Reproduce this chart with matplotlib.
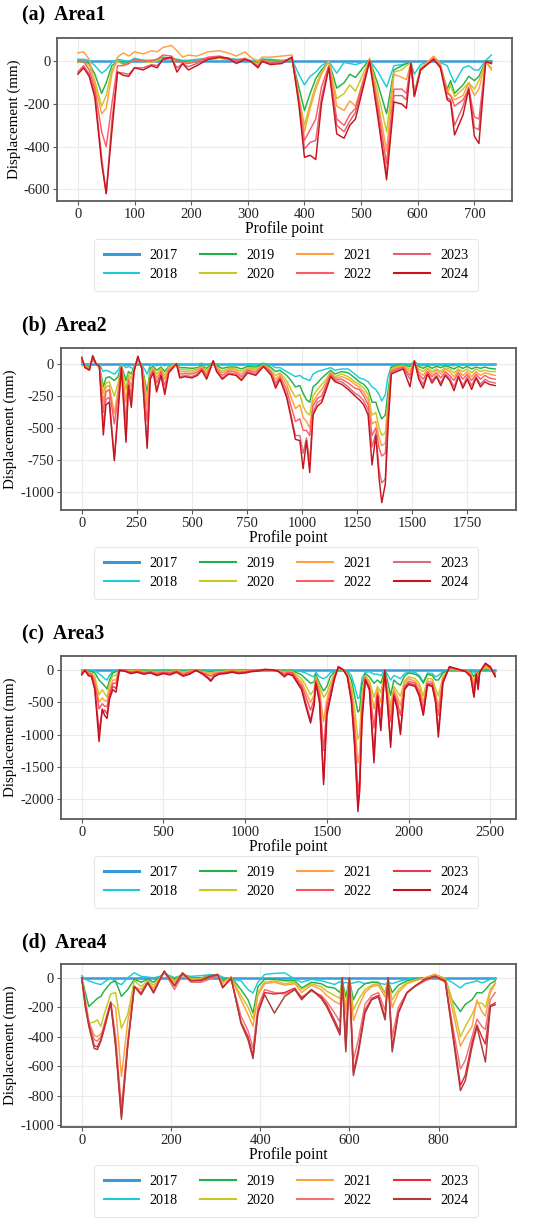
import matplotlib
matplotlib.use("Agg")
import matplotlib.pyplot as plt

# ==========================================================
# PROFILE DISPLACEMENT, FOUR AREAS, 2017 - 2024
# values (mm), 2017 is the reference
# ==========================================================

years = ["2017", "2018", "2019", "2020", "2021", "2022", "2023", "2024"]

# ---------------- Area1 ----------------
a_x = [0, 10, 20, 30, 42, 50, 60, 70, 80, 90,
       100, 115, 130, 140, 150, 165, 175, 185, 195, 210,
       230, 250, 265, 280, 295, 305, 318, 325, 340, 360,
       378, 390, 400, 410, 420, 430, 443, 457, 470, 480,
       490, 515, 530, 545, 558, 572, 580, 588, 594, 605,
       628, 640, 652, 658, 665, 680, 690, 700, 708, 720,
       730]
a_2017_x = [0, 730]
a_2017 = [0, 0]
a_2018 = [10, 10, 5, -20, -55, -40, -5, 10, 5, 0,
          15, 5, 5, 0, 10, 15, 10, 5, 5, 10,
          15, 20, 15, 10, 10, 5, 5, 10, 10, 5,
          10, -60, -110, -70, -50, -20, 0, -55, -5, -10,
          -15, 5, -50, -120, -20, -15, -10, -5, -60, -15,
          10, -5, -20, -60, -100, -30, -20, -40, -40, 5,
          30]
a_2019 = [0, 0, -10, -60, -150, -100, -20, 0, -10, -5,
          10, 5, 0, 10, 20, 15, 5, 0, 0, 0,
          10, 15, 10, 5, 10, 0, -5, 10, 5, 0,
          10, -120, -230, -150, -80, -40, 0, -125, -100, -60,
          -75, 10, -110, -245, -40, -20, -10, -5, -150, -30,
          10, -20, -130, -90, -150, -110, -70, -90, -70, 0,
          0]
a_2020 = [-5, 0, -20, -90, -210, -160, -40, 0, -15, -10,
          10, 0, -5, 5, 15, 10, 0, -5, -5, 0,
          10, 15, 10, 5, 10, 0, -10, 5, 0, 0,
          10, -160, -300, -200, -110, -50, 0, -175, -150, -110,
          -140, 10, -150, -330, -50, -40, -20, -5, -150, -30,
          15, -20, -150, -110, -165, -130, -100, -130, -90, 0,
          -30]
a_2021 = [40, 45, 10, -110, -245, -220, -60, 20, 40, 25,
          45, 35, 50, 45, 65, 75, 50, 20, 30, 25,
          45, 50, 40, 25, 45, 20, 0, 20, 20, 25,
          30, -170, -330, -220, -130, -60, 5, -210, -230, -185,
          -210, 15, -190, -420, -60, -75, -85, -5, -155, -35,
          25, -10, -140, -160, -180, -160, -100, -160, -130, 0,
          -40]
a_2022 = [0, 0, -40, -130, -330, -400, -200, -20, -20, -10,
          10, 0, 5, 10, 30, 25, 0, -5, -10, 0,
          20, 25, 15, 5, 15, 0, -20, 5, -5, 0,
          15, -180, -370, -320, -270, -120, -20, -270, -300, -250,
          -220, 5, -220, -480, -130, -130, -150, -5, -160, -40,
          15, -20, -150, -160, -210, -180, -130, -260, -270, 0,
          -10]
a_2023 = [-50, -20, -60, -150, -450, -620, -280, -50, -55, -60,
          -30, -30, -15, -20, 10, 15, -30, -10, -25, -10,
          15, 20, 10, 5, 10, 0, -25, 0, -10, -5,
          20, -180, -410, -380, -370, -170, -25, -300, -330, -280,
          -240, 0, -250, -530, -160, -160, -180, -5, -160, -40,
          10, -25, -170, -180, -300, -210, -120, -310, -320, 0,
          -5]
a_2024 = [-60, -30, -70, -170, -480, -620, -330, -50, -65, -70,
          -30, -40, -20, -30, 10, 20, -50, -10, -40, -20,
          10, 20, 15, -10, 10, 0, -30, 0, -15, -10,
          20, -200, -450, -440, -460, -200, -30, -340, -360, -300,
          -270, 0, -270, -555, -190, -200, -220, -10, -165, -40,
          10, -30, -180, -190, -345, -250, -130, -350, -385, 0,
          -10]

# ---------------- Area2 ----------------
b_x = [0, 15, 35, 50, 65, 80, 98, 110, 125, 148,
       165, 180, 201, 212, 225, 237, 255, 273, 297, 311,
       325, 340, 360, 377, 395, 430, 445, 470, 500, 525,
       545, 567, 597, 612, 638, 667, 700, 725, 753, 790,
       825, 845,
       860, 880, 900, 930, 950, 970, 990, 1005, 1020, 1035, 1050, 1070, 1090, 1110, 1130, 1150,
       1180, 1210, 1240, 1260, 1280, 1300, 1318, 1335, 1350, 1362, 1378, 1390, 1405, 1430, 1460, 1490, 1510,
       1530, 1550, 1570, 1590, 1610, 1630, 1650, 1670, 1690, 1710, 1730, 1750, 1770, 1790, 1810, 1830, 1850, 1877]
b_2017_x = [0, 1877]
b_2017 = [0, 0]
b_2018 = [10, -5, -10, 30, 0, -5, -60, -50, -60, -80,
          -50, 0, -30, -20, -30, -40, 30, -5, -80, -10,
          -5, -15, -5, -15, -5, 0, -10, -5, -10, -5,
          5, -10, 10, -5, -10, -5, -5, -10, -5, -5,
          5, -5,
          -10, -30, -30, -60, -80, -100, -90, -110, -120, -130, -80, -60, -50, -40, -30, -50,
          -40, -40, -80, -110, -120, -140, -180, -200, -240, -290, -240, -100, -20, 0, 0, -5, 15,
          -5, -15, 0, -10, -5, -10, 0, -10, -15, -5, -10, -5, -15, -10, -10, -5, -10, -10]
b_2019 = [15, -10, -25, 40, -5, -10, -180, -110, -100, -130,
          -100, -10, -130, -60, -80, -25, 35, -15, -220, -35,
          -20, -50, -25, -60, -20, 0, -30, -30, -35, -30,
          -15, -35, 10, -15, -35, -25, -25, -40, -20, -25,
          -5, -15,
          -30, -60, -50, -90, -130, -180, -170, -230, -280, -300, -180, -150, -110, -80, -50, -80,
          -60, -70, -110, -140, -160, -200, -300, -300, -380, -430, -400, -220, -30, -10, -10, -20, 20,
          -20, -35, -15, -35, -20, -30, -15, -25, -40, -20, -35, -20, -40, -25, -35, -25, -35, -40]
b_2020 = [20, -15, -30, 45, -5, -15, -230, -150, -140, -250,
          -150, -10, -200, -80, -120, -30, 40, -20, -280, -50,
          -30, -80, -35, -90, -25, 0, -45, -45, -50, -40,
          -20, -55, 15, -25, -55, -35, -40, -60, -30, -40,
          -10, -25,
          -50, -90, -70, -130, -200, -260, -240, -330, -380, -400, -250, -200, -160, -120, -60, -100,
          -80, -100, -140, -160, -190, -240, -400, -380, -500, -560, -540, -300, -40, -20, -15, -40, 20,
          -40, -60, -30, -60, -40, -60, -30, -40, -70, -40, -60, -40, -70, -40, -60, -50, -60, -60]
b_2021 = [25, -20, -35, 50, -5, -15, -300, -180, -170, -390,
          -200, -15, -300, -100, -180, -40, 45, -25, -330, -70,
          -40, -110, -45, -120, -35, 0, -60, -60, -65, -50,
          -25, -70, 20, -35, -70, -45, -50, -80, -40, -50,
          -10, -30,
          -60, -120, -80, -160, -260, -350, -320, -420, -450, -500, -300, -240, -200, -140, -70, -110,
          -100, -120, -160, -180, -220, -280, -470, -450, -580, -640, -620, -350, -50, -30, -20, -60, 20,
          -60, -90, -40, -80, -50, -80, -40, -60, -100, -50, -90, -60, -100, -60, -90, -70, -80, -90]
b_2022 = [30, -25, -40, 55, -5, -20, -380, -220, -200, -470,
          -260, -20, -450, -130, -250, -50, 50, -30, -450, -90,
          -50, -150, -60, -170, -50, 0, -80, -75, -80, -65,
          -35, -90, 20, -45, -90, -55, -65, -100, -50, -65,
          -15, -40,
          -70, -150, -100, -200, -330, -450, -430, -520, -520, -560, -330, -270, -250, -160, -80, -120,
          -120, -150, -190, -200, -250, -320, -560, -500, -660, -720, -700, -400, -60, -40, -25, -90, 20,
          -80, -120, -60, -100, -70, -110, -60, -90, -130, -70, -120, -80, -130, -80, -120, -90, -110, -120]
b_2023 = [40, -30, -45, 60, 0, -20, -500, -280, -260, -740,
          -350, -25, -590, -160, -320, -60, 55, -35, -640, -110,
          -60, -200, -80, -220, -60, 0, -100, -90, -100, -80,
          -45, -110, 20, -55, -110, -70, -80, -120, -60, -80,
          -20, -50,
          -80, -170, -110, -240, -400, -560, -560, -700, -580, -760, -380, -300, -280, -180, -90, -130,
          -140, -180, -230, -250, -290, -360, -650, -540, -830, -930, -900, -480, -70, -50, -30, -120, 20,
          -100, -160, -70, -130, -90, -150, -80, -110, -180, -90, -170, -100, -170, -100, -160, -120, -140, -150]
b_2024 = [52, -30, -50, 65, 0, -20, -556, -320, -300, -757,
          -380, -30, -613, -170, -340, -65, 60, -40, -660, -120,
          -70, -220, -90, -240, -70, 0, -110, -100, -110, -90,
          -50, -120, 25, -60, -120, -80, -90, -130, -70, -90,
          -20, -60,
          -90, -190, -120, -260, -420, -590, -600, -820, -600, -850, -400, -330, -300, -200, -100, -140,
          -160, -200, -250, -280, -320, -400, -790, -560, -900, -1085, -940, -500, -80, -60, -40, -180, 25,
          -120, -190, -80, -150, -100, -170, -90, -130, -210, -100, -190, -120, -200, -110, -180, -140, -160, -170]

# ---------------- Area3 ----------------
c_x = [0, 20, 40, 60, 80, 106, 125, 140, 155, 170, 190, 210, 230,
       260, 300, 340, 380, 420, 460, 500, 540, 580, 620,
       660, 700, 740, 770, 790, 810, 840, 880, 920, 960,
       1000, 1040, 1080, 1120, 1160, 1200, 1240, 1260, 1290,
       1320, 1345, 1370, 1400, 1422, 1432, 1455, 1480, 1500, 1520,
       1545, 1570, 1600, 1625, 1650, 1670, 1690, 1700, 1715, 1735,
       1760, 1788, 1810, 1830, 1854, 1870, 1890, 1910, 1930, 1950,
       1975, 2000, 2040, 2065, 2090, 2115, 2145, 2165, 2182, 2210,
       2250, 2300, 2350, 2380, 2400, 2414, 2425, 2435, 2470, 2500,
       2530]
c_2017_x = [0, 2530]
c_2017 = [0, 0]
c_2018 = [0, 0, 0, -5, -10, -50, -90, -130, -150, -80, -10, -5, 0,
          0, 0, 5, 0, 0, -5, 0, 0, 0, -5,
          0, 5, 0, -5, -5, -5, 0, 0, 0, 0,
          0, 0, 0, 5, 5, 0, -5, 0, 0,
          -10, -20, -40, -80, -100, -30, -100, -130, -100, -40,
          -10, 5, 0, -10, -80, -250, -440, -420, -120, -30,
          -20, -60, -60, -80, 0, -60, -150, -80, -100, -130,
          -50, -20, -30, -80, -180, -40, -50, -100, -80, -20,
          5, 0, 0, -10, -30, -10, -20, -5, 10, 0,
          -30]
c_2019 = [-10, 5, -10, -20, -40, -150, -200, -240, -290, -150, -40, -20, 5,
          5, -5, 10, -10, -5, -15, -10, -10, 0, -15,
          -5, 10, -10, -15, -20, -15, -10, -5, 0, -5,
          0, 5, 5, 10, 10, 0, -15, -5, -10,
          -40, -70, -130, -200, -180, -60, -200, -320, -250, -100,
          -30, 10, 0, -30, -150, -400, -650, -620, -220, -50,
          -100, -200, -150, -200, 0, -150, -390, -150, -200, -230,
          -90, -40, -60, -100, -200, -60, -80, -150, -150, -40,
          10, 0, 0, -20, -100, -20, -50, -10, 20, 10,
          -50]
c_2020 = [-20, 10, -30, -40, -100, -380, -300, -360, -420, -200, -80, -80, 10,
          0, -10, 5, -20, -10, -25, -15, -20, 0, -25,
          -10, 5, -20, -30, -40, -25, -20, -10, 0, -10,
          -5, 5, 5, 10, 10, 0, -25, -10, -20,
          -80, -130, -230, -380, -300, -100, -250, -420, -350, -200,
          -60, 20, 5, -50, -250, -600, -1070, -1000, -350, -80,
          -160, -420, -250, -350, 0, -280, -550, -250, -330, -400,
          -160, -100, -130, -200, -400, -130, -130, -280, -400, -90,
          20, 5, -5, -40, -180, -30, -100, -15, 40, 20,
          -60]
c_2021 = [-30, 10, -40, -50, -150, -500, -430, -470, -480, -300, -150, -150, 10,
          0, -20, 0, -30, -15, -40, -20, -30, -5, -40,
          -20, 5, -30, -50, -60, -40, -30, -20, -5, -20,
          -10, 0, 5, 15, 10, 0, -40, -20, -30,
          -120, -180, -320, -500, -380, -120, -300, -800, -450, -280,
          -80, 30, 5, -60, -330, -800, -1440, -1300, -450, -100,
          -200, -600, -300, -500, 0, -350, -650, -300, -400, -550,
          -200, -130, -170, -250, -500, -170, -170, -350, -560, -120,
          30, 10, -10, -50, -250, -40, -150, -20, 60, 30,
          -70]
c_2022 = [-40, 10, -50, -60, -200, -600, -520, -560, -560, -380, -200, -200, 10,
          0, -30, -10, -40, -20, -50, -30, -40, -10, -60,
          -30, 5, -40, -70, -90, -60, -40, -30, -10, -30,
          -20, 0, 5, 15, 10, -5, -60, -30, -40,
          -150, -230, -400, -620, -450, -150, -380, -1250, -550, -350,
          -100, 40, 10, -80, -400, -950, -1900, -1700, -600, -120,
          -250, -900, -350, -700, 0, -420, -800, -350, -480, -700,
          -250, -170, -200, -320, -600, -200, -200, -420, -700, -150,
          40, 15, -10, -70, -330, -50, -220, -20, 90, 40,
          -80]
c_2023 = [-60, 0, -70, -90, -280, -950, -650, -620, -680, -400, -250, -280, 0,
          0, -40, -20, -50, -30, -70, -40, -60, -20, -80,
          -50, 0, -50, -100, -150, -80, -50, -40, -20, -40,
          -30, -10, 0, 15, 10, -10, -80, -50, -60,
          -180, -270, -500, -780, -520, -180, -460, -1700, -650, -420,
          -130, 50, 10, -90, -450, -1100, -2100, -1850, -700, -140,
          -280, -1300, -380, -900, 0, -480, -1100, -380, -550, -950,
          -280, -200, -230, -380, -680, -220, -230, -480, -950, -180,
          50, 20, -20, -90, -400, -60, -280, -30, 110, 60,
          -90]
c_2024 = [-70, 0, -80, -100, -300, -1110, -600, -700, -750, -450, -300, -340, 0,
          -10, -50, -30, -60, -40, -80, -50, -70, -30, -90,
          -60, 0, -60, -120, -170, -100, -60, -50, -30, -50,
          -40, -20, -10, 10, 10, -10, -100, -60, -80,
          -200, -300, -550, -820, -540, -200, -500, -1780, -700, -450,
          -150, 60, 10, -100, -500, -1200, -2200, -1900, -800, -150,
          -300, -1440, -400, -940, 0, -500, -1200, -400, -600, -1000,
          -300, -220, -250, -400, -700, -230, -250, -500, -1040, -200,
          60, 20, -20, -100, -420, -60, -300, -30, 110, 50,
          -100]

# ---------------- Area4 ----------------
d_x = [0, 8, 16, 28, 35, 43, 50, 65, 76, 89,
       103, 118, 133, 148, 161, 176, 185, 208, 226, 245,
       268, 286, 305, 316, 335, 357, 373, 384, 395, 410,
       432, 455, 478, 493, 515, 537, 549, 567, 579, 584,
       592, 600, 609, 620, 635, 650, 665, 680, 687, 696,
       710, 729, 747, 770, 792, 815, 830, 849, 860, 875,
       886, 897, 905, 916, 927]
d_2017_x = [0, 927]
d_2017 = [0, 0]
d_2018 = [15, -10, -20, -34, -40, -46, -30, 0, -30, -46,
          0, 34, 10, 5, 0, 10, 30, 0, 20, 10,
          15, 20, 20, 5, -10, -20, -80, -103, -30, 23,
          30, 34, -10, -30, -10, -20, -30, -45, -25, -40,
          -30, -40, -35, -25, -40, -30, -35, -45, -30, -40,
          -25, -10, 0, 0, 5, -5, -30, -69, -40, -30,
          -20, -35, -25, -10, -5]
d_2019 = [0, -100, -195, -160, -140, -126, -90, -34, -20, -126,
          -80, -10, -30, -10, -30, 10, 30, -10, 25, 0,
          0, 15, 20, -20, 5, -80, -150, -240, -60, -10,
          -10, -20, -20, -69, -30, -40, -60, -70, -100, -20,
          -130, -10, -149, -80, -40, -30, -30, -103, -20, -100,
          -50, -20, -10, 0, 20, -5, -149, -229, -180, -149,
          -100, -103, -80, -40, -20]
d_2020 = [0, -150, -309, -300, -286, -330, -250, -110, -100, -343,
          -250, -20, -60, -20, -50, 5, 35, -20, 25, -5,
          -5, 10, 20, -30, 5, -120, -200, -280, -100, -30,
          -20, -40, -30, -80, -40, -60, -90, -120, -140, -10,
          -200, -10, -217, -150, -80, -50, -40, -100, -10, -150,
          -80, -30, -15, 0, 20, -5, -150, -400, -330, -250,
          -170, -172, -200, -80, -34]
d_2021 = [0, -150, -300, -390, -400, -380, -350, -170, -200, -670,
          -300, -60, -80, -30, -70, 0, 40, -30, 30, -10,
          -10, 10, 25, -40, 5, -150, -250, -330, -120, -40,
          -30, -50, -40, -100, -50, -80, -120, -160, -180, -10,
          -250, -10, -290, -200, -100, -60, -50, -130, -10, -200,
          -100, -40, -20, 0, 25, -10, -200, -465, -400, -330,
          -150, -230, -260, -100, -40]
d_2022 = [0, -160, -300, -420, -430, -400, -320, -160, -400, -880,
          -430, -60, -100, -35, -90, -10, 40, -80, 20, -30,
          -30, -10, 15, -60, -10, -260, -360, -480, -200, -80,
          -100, -110, -80, -130, -90, -120, -160, -240, -300, -20,
          -380, -20, -560, -420, -180, -120, -100, -220, -20, -400,
          -200, -100, -60, -20, 5, -30, -300, -620, -560, -400,
          -280, -330, -350, -150, -100]
d_2023 = [0, -180, -320, -460, -470, -420, -340, -170, -450, -940,
          -460, -60, -110, -30, -100, -5, 45, -50, 30, -20,
          -20, 5, 20, -65, -5, -300, -400, -530, -230, -100,
          -110, -100, -70, -140, -80, -130, -180, -290, -370, 0,
          -480, 0, -640, -490, -220, -140, -120, -270, 0, -480,
          -230, -100, -55, -10, 10, -20, -330, -730, -660, -440,
          -320, -400, -450, -190, -170]
d_2024 = [0, -200, -330, -480, -487, -430, -355, -172, -470, -961,
          -470, -57, -115, -34, -103, -10, 46, -57, 34, -20,
          -15, 10, 23, -69, 0, -309, -423, -549, -240, -114,
          -240, -126, -80, -149, -80, -140, -195, -309, -389, 0,
          -503, 0, -664, -515, -240, -149, -130, -286, 0, -503,
          -240, -103, -57, -10, 11, -23, -355, -766, -698, -469,
          -332, -469, -572, -195, -183]

# line colours (the red shades shift a little between the four panels)
base_colors = ["#3a9ad9", "#1fcbd8", "#22b24a", "#c9c823", "#ffa040", "#ff5a66"]
a_reds = ["#ff5a66", "#e0606e", "#c8141e"]
b_reds = ["#ff5a66", "#d8707a", "#c8141e"]
c_reds = ["#ff5060", "#e8384e", "#c4101c"]
d_reds = ["#f07272", "#e8283c", "#b03a3a"]

plt.rcParams["font.family"] = ["Liberation Serif", "DejaVu Serif"]
plt.rcParams["axes.unicode_minus"] = False


# ==========================================================
# ONE PANEL
# ==========================================================

def draw_panel(fig, rect, x, x17, y17, series, reds, xticks, yticks,
               title, title_y, legend_y):

    ax = fig.add_axes(rect)

    colors = base_colors[:5] + reds
    ax.plot(x17, y17, color=colors[0], lw=1.8, label=years[0])
    for i, y in enumerate(series):
        ax.plot(x, y, color=colors[i + 1], lw=1.05, label=years[i + 1])

    ax.margins(x=0.05, y=0.05)
    ax.set_xticks(xticks)
    ax.set_yticks(yticks)
    ax.grid(True, color="#ebebeb", lw=0.8)
    ax.set_axisbelow(True)

    for s in ax.spines.values():
        s.set_color("#5a5a5a")
        s.set_linewidth(1.3)
    ax.tick_params(labelsize=10.5, colors="#222222", length=3,
                   width=0.8, pad=2)
    ax.tick_params(color="#5a5a5a")

    ax.set_xlabel("Profile point", fontsize=11.2, labelpad=0)
    ax.set_ylabel("Displacement (mm)", fontsize=10.8, labelpad=2)

    fig.text(0.040, title_y, title, fontsize=14.3, fontweight="bold",
             va="center", ha="left")

    leg = ax.legend(ncol=4, loc="center",
                    bbox_to_anchor=(0.52, legend_y),
                    bbox_transform=fig.transFigure,
                    fontsize=10.2, frameon=True, fancybox=True,
                    handlelength=2.5, handletextpad=0.75,
                    columnspacing=1.6, labelspacing=0.42,
                    borderpad=0.7)
    leg.get_frame().set_edgecolor("#e2e2e2")
    leg.get_frame().set_linewidth(0.8)
    for i, h in enumerate(leg.get_lines()):
        h.set_linewidth(2.2 if i == 0 else 1.5)
    return ax


fig = plt.figure(figsize=(5.5, 12.26), dpi=100)

draw_panel(fig, [0.104, 0.836, 0.827, 0.133], a_x, a_2017_x, a_2017,
           [a_2018, a_2019, a_2020, a_2021, a_2022, a_2023, a_2024],
           a_reds, [0, 100, 200, 300, 400, 500, 600, 700],
           [0, -200, -400, -600], "(a)  Area1", 0.987, 1 - 265 / 1226)

draw_panel(fig, [0.111, 0.584, 0.827, 0.132], b_x, b_2017_x, b_2017,
           [b_2018, b_2019, b_2020, b_2021, b_2022, b_2023, b_2024],
           b_reds, [0, 250, 500, 750, 1000, 1250, 1500, 1750],
           [0, -250, -500, -750, -1000], "(b)  Area2", 1 - 325 / 1226,
           1 - 573 / 1226)

draw_panel(fig, [0.111, 0.332, 0.827, 0.133], c_x, c_2017_x, c_2017,
           [c_2018, c_2019, c_2020, c_2021, c_2022, c_2023, c_2024],
           c_reds, [0, 500, 1000, 1500, 2000, 2500],
           [0, -500, -1000, -1500, -2000], "(c)  Area3", 1 - 634 / 1226,
           1 - 882 / 1226)

draw_panel(fig, [0.111, 0.081, 0.827, 0.133], d_x, d_2017_x, d_2017,
           [d_2018, d_2019, d_2020, d_2021, d_2022, d_2023, d_2024],
           d_reds, [0, 200, 400, 600, 800],
           [0, -200, -400, -600, -800, -1000], "(d)  Area4", 1 - 942 / 1226,
           1 - 1191 / 1226)

fig.savefig("out.png", dpi=100)
